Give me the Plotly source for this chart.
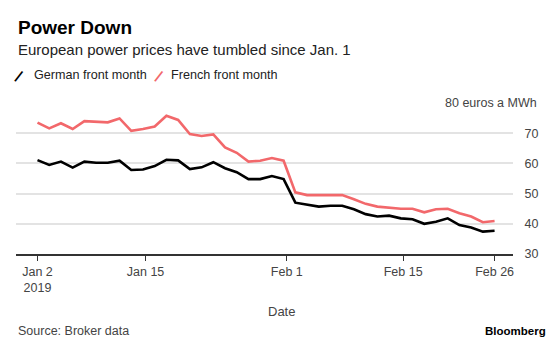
import pandas as pd
import plotly.graph_objects as go

# ---- data (business days, Jan 2 - Feb 26, 2019) ----
dates = pd.bdate_range("2019-01-02", "2019-02-26")
german = [61.1, 59.5, 60.6, 58.6, 60.6, 60.2, 60.2, 60.9, 57.8, 58.0, 59.1,
          61.2, 61.0, 58.1, 58.7, 60.4, 58.4, 57.1, 54.8, 54.8, 55.8, 54.8,
          47.0, 46.3, 45.7, 46.0, 46.0, 44.8, 43.2, 42.4, 42.7, 41.8, 41.5,
          40.0, 40.7, 41.8, 39.6, 38.8, 37.4, 37.7]
french = [73.5, 71.6, 73.3, 71.4, 74.0, 73.9, 73.6, 74.9, 70.8, 71.4, 72.2,
          75.8, 74.4, 69.7, 69.1, 69.6, 65.3, 63.5, 60.6, 60.9, 61.8, 60.9,
          50.4, 49.5, 49.5, 49.5, 49.5, 48.1, 46.6, 45.7, 45.3, 45.0, 45.0,
          43.8, 44.8, 45.0, 43.5, 42.4, 40.5, 40.9]
tick_dates = ["2019-01-02", "2019-01-15", "2019-02-01", "2019-02-15", "2019-02-26"]
tick_labels = ["Jan 2<br>2019", "Jan 15", "Feb 1", "Feb 15", "Feb 26"]
y_ticks = [30, 40, 50, 60, 70, 80]
series_names = ["German front month", "French front month"]
colors = ["#000000", "#f2686b"]

# points are evenly spaced by trading day; ticks placed on calendar scale
idx = list(range(len(dates)))
span_days = (dates[-1] - dates[0]).days
tick_pos = [(pd.Timestamp(d) - dates[0]).days / span_days * (len(dates) - 1)
            for d in tick_dates]

W, H = 560, 345
L, R, T, B = 16, 47, 103, 91
pw, ph = W - L - R, H - T - B


def px_x(px):
    return (px - L) / pw


def px_y(py):
    return (H - B - py) / ph


FONT = "Liberation Sans, Arial, Helvetica, sans-serif"

fig = go.Figure()
for name, vals, col in zip(series_names, [german, french], colors):
    fig.add_trace(go.Scatter(
        x=idx, y=vals, mode="lines", name=name,
        line=dict(color=col, width=2.6),
        customdata=[d.strftime("%b %d, %Y") for d in dates],
        hovertemplate="%{customdata}: %{y}<extra>" + name + "</extra>",
    ))

fig.update_layout(
    width=W, height=H,
    margin=dict(l=L, r=R, t=T, b=B),
    plot_bgcolor="white", paper_bgcolor="white",
    showlegend=False,
    font=dict(family=FONT, color="#444"),
    xaxis=dict(
        range=[(16 - 37.5) / 11.72, (513 - 37.5) / 11.72],
        tickvals=tick_pos, ticktext=tick_labels,
        ticks="outside", ticklen=5, tickcolor="#333", tickwidth=1,
        showline=True, linecolor="#333", linewidth=1.5,
        showgrid=False, zeroline=False,
        tickfont=dict(size=12.5, color="#444"),
    ),
    yaxis=dict(
        side="right", range=[30, 80],
        tickvals=y_ticks, ticktext=[str(v) for v in y_ticks[:-1]] + [""],
        showgrid=True, gridcolor="#e3e3e3", gridwidth=1.5,
        zeroline=False, showline=False,
        ticks="outside", ticklen=8, tickcolor="rgba(0,0,0,0)",
        tickfont=dict(size=12.5, color="#444"),
    ),
)

ann = []
ann.append(dict(text="<b>Power Down</b>", x=px_x(16), y=px_y(27.5),
                xanchor="left", yanchor="middle",
                font=dict(size=19, color="#000")))
ann.append(dict(text="European power prices have tumbled since Jan. 1",
                x=px_x(16), y=px_y(49.7), xanchor="left", yanchor="middle",
                font=dict(size=15, color="#222")))
# legend: slanted swatch + label
for name, col, sx, tx in zip(series_names, colors, [20, 160], [32, 169]):
    ann.append(dict(text="<b>|</b>", x=px_x(sx), y=px_y(75), textangle=38,
                    xanchor="center", yanchor="middle",
                    font=dict(size=13, color=col)))
    ann.append(dict(text=name, x=px_x(tx), y=px_y(74.8),
                    xanchor="left", yanchor="middle",
                    font=dict(size=12.6, color="#222")))
ann.append(dict(text=f"{y_ticks[-1]} euros a MWh", x=px_x(543), y=y_ticks[-1],
                yref="y", xanchor="right", yanchor="middle",
                bgcolor="white", borderpad=5,
                font=dict(size=12.5, color="#444")))
ann.append(dict(text="Date", x=px_x(281), y=px_y(311),
                xanchor="center", yanchor="middle",
                font=dict(size=13, color="#444")))
ann.append(dict(text="Source: Broker data", x=px_x(16), y=px_y(331),
                xanchor="left", yanchor="middle",
                font=dict(size=12.5, color="#444")))
ann.append(dict(text="<b>Bloomberg</b>", x=px_x(548), y=px_y(331),
                xanchor="right", yanchor="middle",
                font=dict(size=11.5, color="#000")))
for a in ann:
    a.setdefault("xref", "paper")
    a.setdefault("yref", "paper")
    a["showarrow"] = False
fig.update_layout(annotations=ann)

fig.write_html("out.html")
